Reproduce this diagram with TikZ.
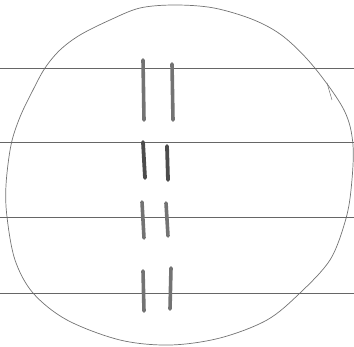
\documentclass[tikz,border=0pt]{standalone}
\begin{document}
\begin{tikzpicture}[x=1pt,y=-1pt,
  pencil/.style={draw=black!55, line width=0.7pt},
  rule/.style={draw=black!60, line width=0.6pt},
  chrom/.style={draw=black!55, line width=3.6pt, line cap=round},
  darkchrom/.style={draw=black!70, line width=3.8pt, line cap=round}]
\useasboundingbox (0,0) rectangle (354,347);
% cell outline
\draw[pencil] plot[smooth cycle, tension=0.55] coordinates {
 (175,5) (214,8) (254,20) (284,37) (314,67) (344,110) (353,145) (351,190)
 (345,222) (330,260) (300,293) (267,320) (220,338) (170,345) (120,340)
 (67,320) (33,293) (15,260) (7,217) (6,185) (11,145) (20,117) (33,90)
 (45,68) (60,50) (80,35) (110,20) (140,8)};
\draw[pencil, line width=0.5pt] (327,83) -- (332,100);
% horizontal lines
\foreach \y in {68,142,217,293} \draw[rule] (0,\y) -- (354,\y);
% chromosome pairs
\draw[chrom] (143,60) -- (144,120);
\draw[chrom] (172,64) -- (173,120);
\draw[darkchrom] (143,142) -- (145,178);
\draw[darkchrom] (167,146) -- (168,180);
\draw[chrom] (142,202) -- (144,238);
\draw[chrom] (166,203) -- (168,236);
\draw[chrom] (143,271) -- (144,311);
\draw[chrom] (171,268) -- (170,309);
\end{tikzpicture}
\end{document}
